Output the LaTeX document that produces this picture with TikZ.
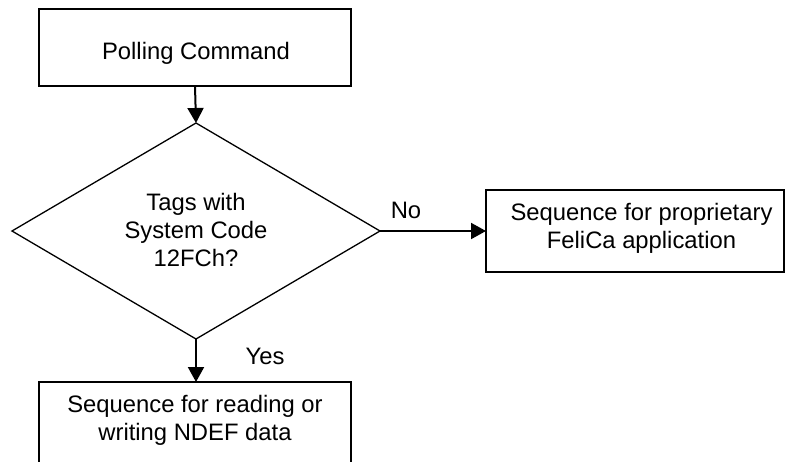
\documentclass[tikz,border=0pt]{standalone}
\usepackage{fontspec}
\setmainfont{Liberation Sans}
\usetikzlibrary{shapes.geometric,arrows.meta}
\begin{document}
\begin{tikzpicture}[x=1pt,y=-1pt,
  box/.style={draw,line width=1.8pt,inner sep=0pt,outer sep=0pt},
  dia/.style={draw,shape=diamond,line width=1.3pt,inner sep=0pt,outer sep=0pt,minimum width=368pt,minimum height=216pt},
  lbl/.style={font=\fontsize{23.8}{27.6}\selectfont,align=center,inner sep=0pt},
  arr/.style={line width=2pt,-{Triangle[length=15pt,width=16pt]}}]
\useasboundingbox (0,0) rectangle (785,461);
\clip (0,0) rectangle (785,461);
\fill[white] (0,0) rectangle (785,461);
% shapes
\node[box,minimum width=312pt,minimum height=77pt] (poll) at (195,47.5) {};
\node[dia] (dec) at (196,231) {};
\node[box,minimum width=298pt,minimum height=82pt] (prop) at (635,231) {};
\node[box,minimum width=312pt,minimum height=120pt] (ndef) at (195,442) {};
% texts
\node[lbl] (tpoll) at (196,53) {Polling Command};
\node[lbl] (tdec) at (196,230) {Tags with\\System Code\\12FCh?};
\node[lbl] (tprop) at (641.5,228.3) {Sequence for proprietary\\FeliCa application};
\node[lbl] (tndef) at (195,420.3) {Sequence for reading or\\writing NDEF data};
\node[lbl] (no) at (406,210.5) {No};
\node[lbl] (yes) at (265,356) {Yes};
% connectors
\draw[arr] (poll.south) -- (dec.north);
\draw[arr] (dec.east) -- (prop.west);
\draw[arr] (dec.south) -- (dec.south |- ndef.north);
\end{tikzpicture}
\end{document}
